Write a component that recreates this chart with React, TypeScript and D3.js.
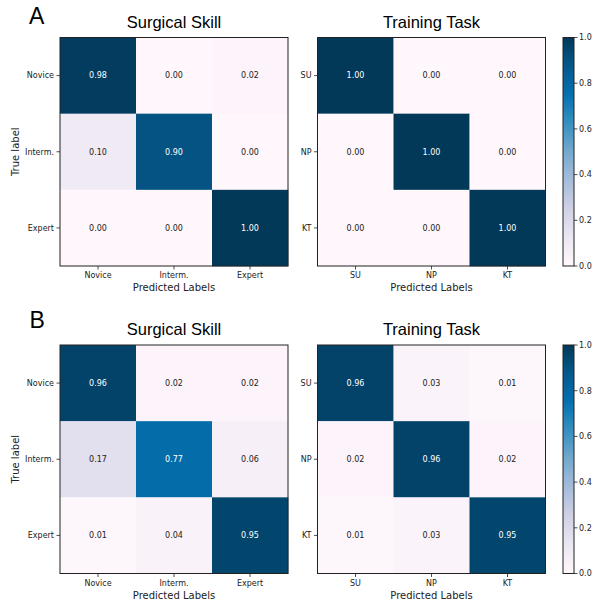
import React from "react";
import * as d3 from "d3";

const skillLabels = ["Novice", "Interm.", "Expert"];
const taskLabels = ["SU", "NP", "KT"];
const skillA = [
  [0.98, 0.0, 0.02],
  [0.1, 0.9, 0.0],
  [0.0, 0.0, 1.0],
];
const taskA = [
  [1.0, 0.0, 0.0],
  [0.0, 1.0, 0.0],
  [0.0, 0.0, 1.0],
];
const skillB = [
  [0.96, 0.02, 0.02],
  [0.17, 0.77, 0.06],
  [0.01, 0.04, 0.95],
];
const taskB = [
  [0.96, 0.03, 0.01],
  [0.02, 0.96, 0.02],
  [0.01, 0.03, 0.95],
];
const cbTicks = [0, 0.2, 0.4, 0.6, 0.8, 1.0];
const puBu = ["#fff7fb", "#ece7f2", "#d0d1e6", "#a6bddb", "#74a9cf", "#3690c0", "#0570b0", "#045a8d", "#023858"];

const color = d3
  .scaleLinear<string>()
  .domain(puBu.map((_, i) => i / (puBu.length - 1)))
  .range(puBu)
  .interpolate(d3.interpolateRgb)
  .clamp(true);

const SANS = "DejaVu Sans";
const TITLE = "Liberation Sans, Arial";

function Heatmap({ x0, y0, w, h, data, labels, title, showY }: any) {
  const xs = d3.scaleBand<number>().domain([0, 1, 2]).range([x0, x0 + w]);
  const ys = d3.scaleBand<number>().domain([0, 1, 2]).range([y0, y0 + h]);
  return (
    <g>
      <text x={x0 + w / 2} y={y0 - 10} textAnchor="middle" fontFamily={TITLE} fontSize={16.5} fill="#000">
        {title}
      </text>
      {data.map((row: number[], i: number) =>
        row.map((v: number, j: number) => (
          <g key={`${i}-${j}`}>
            <rect x={xs(j)} y={ys(i)} width={xs.bandwidth() + 0.3} height={ys.bandwidth() + 0.3} fill={color(v)} />
          </g>
        ))
      )}
      {data.map((row: number[], i: number) =>
        row.map((v: number, j: number) => (
          <text
            key={`t${i}-${j}`}
            x={xs(j)! + xs.bandwidth() / 2}
            y={ys(i)! + ys.bandwidth() / 2}
            dy="0.35em"
            textAnchor="middle"
            fontFamily={SANS}
            fontSize={8}
            fill={v > 0.5 ? "#fff" : "#222"}
          >
            {v.toFixed(2)}
          </text>
        ))
      )}
      <rect x={x0} y={y0} width={w} height={h} fill="none" stroke="#222" strokeWidth={1} />
      {labels.map((l: string, i: number) => (
        <g key={`y${i}`}>
          <line x1={x0 - 3.5} x2={x0} y1={ys(i)! + ys.bandwidth() / 2} y2={ys(i)! + ys.bandwidth() / 2} stroke="#222" strokeWidth={0.8} />
          <text x={x0 - 6} y={ys(i)! + ys.bandwidth() / 2} dy="0.35em" textAnchor="end" fontFamily={SANS} fontSize={8} fill="#222">
            {l}
          </text>
          <line x1={xs(i)! + xs.bandwidth() / 2} x2={xs(i)! + xs.bandwidth() / 2} y1={y0 + h} y2={y0 + h + 3.5} stroke="#222" strokeWidth={0.8} />
          <text x={xs(i)! + xs.bandwidth() / 2} y={y0 + h + 12} textAnchor="middle" fontFamily={SANS} fontSize={8} fill="#222">
            {l}
          </text>
        </g>
      ))}
      <text x={x0 + w / 2} y={y0 + h + 25} textAnchor="middle" fontFamily={SANS} fontSize={10} fill="#222">
        Predicted Labels
      </text>
      {showY && (
        <text
          transform={`translate(${19},${y0 + h / 2}) rotate(-90)`}
          textAnchor="middle"
          fontFamily={SANS}
          fontSize={10}
          fill="#222"
        >
          True label
        </text>
      )}
    </g>
  );
}

function Colorbar({ x0, y0, w, h, id }: any) {
  const s = d3.scaleLinear().domain([0, 1]).range([y0 + h, y0]);
  const stops = d3.range(0, 1.0001, 0.05);
  return (
    <g>
      <defs>
        <linearGradient id={id} x1="0" y1="1" x2="0" y2="0">
          {stops.map((t) => (
            <stop key={t} offset={t} stopColor={color(t)} />
          ))}
        </linearGradient>
      </defs>
      <rect x={x0} y={y0} width={w} height={h} fill={`url(#${id})`} stroke="#222" strokeWidth={1} />
      {cbTicks.map((t) => (
        <g key={t}>
          <line x1={x0 + w} x2={x0 + w + 3.5} y1={s(t)} y2={s(t)} stroke="#222" strokeWidth={0.8} />
          <text x={x0 + w + 5} y={s(t)} dy="0.35em" fontFamily={SANS} fontSize={8} fill="#222">
            {t.toFixed(1)}
          </text>
        </g>
      ))}
    </g>
  );
}

export default function App() {
  const W = 228;
  const H = 228.5;
  const lx = 60;
  const rx = 317.5;
  const topA = 37.5;
  const topB = 345;
  return (
    <svg width={594} height={601} style={{ position: "absolute", left: 0, top: 0, background: "#fff" }}>
      <rect width={594} height={601} fill="#fff" />
      <text x={29} y={23.5} fontFamily={TITLE} fontSize={23} fill="#000">A</text>
      <text x={29.5} y={328} fontFamily={TITLE} fontSize={23} fill="#000">B</text>
      <Heatmap x0={lx} y0={topA} w={W} h={H} data={skillA} labels={skillLabels} title="Surgical Skill" showY />
      <Heatmap x0={rx} y0={topA} w={W} h={H} data={taskA} labels={taskLabels} title="Training Task" />
      <Colorbar x0={563} y0={topA} w={11} h={H} id="cbA" />
      <Heatmap x0={lx} y0={topB} w={W} h={H} data={skillB} labels={skillLabels} title="Surgical Skill" showY />
      <Heatmap x0={rx} y0={topB} w={W} h={H} data={taskB} labels={taskLabels} title="Training Task" />
      <Colorbar x0={563} y0={topB} w={11} h={H} id="cbB" />
    </svg>
  );
}
